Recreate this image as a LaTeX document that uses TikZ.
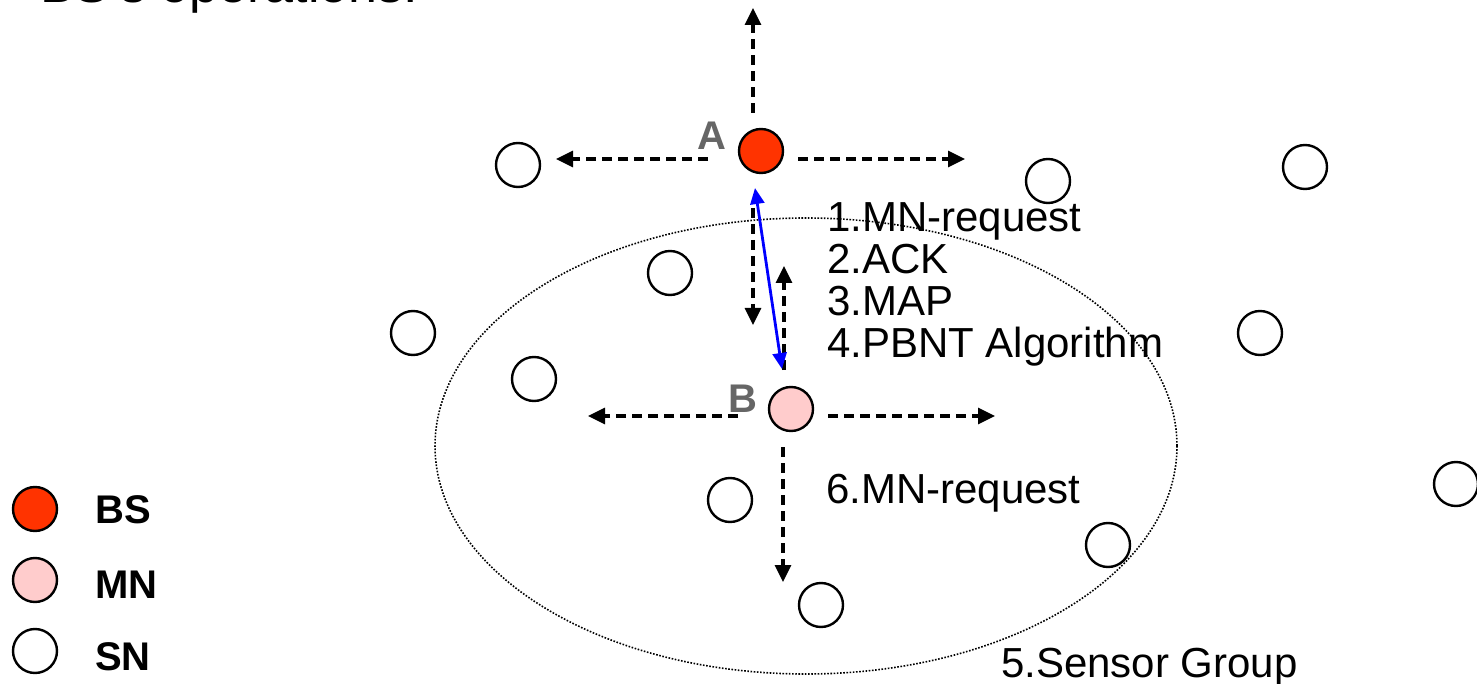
\documentclass[tikz,border=0pt]{standalone}
\usepackage{fontspec}
\setmainfont{Liberation Sans}
\usetikzlibrary{arrows.meta}
\definecolor{bsred}{RGB}{255,51,0}
\definecolor{mnpink}{RGB}{255,204,204}
\definecolor{labgray}{RGB}{102,102,102}
\definecolor{linkblue}{RGB}{0,0,255}

\begin{document}
\begin{tikzpicture}[x=1pt,y=-1pt,
  nodebase/.style={circle,draw=black,line width=2.4pt,minimum size=44pt,inner sep=0pt},
  bsnode/.style={nodebase,fill=bsred},
  mnnode/.style={nodebase,fill=mnpink},
  snnode/.style={nodebase,fill=white},
  msg/.style={draw=black,line width=3.2pt,dash pattern=on 10pt off 6pt,
    -{Triangle[length=17pt,width=16pt]}},
  link/.style={draw=linkblue,line width=2.8pt,
    {Triangle[length=16pt,width=14pt]}-{Triangle[length=16pt,width=14pt]}},
  txt/.style={anchor=base west,inner sep=0pt,font=\fontsize{42}{46}\selectfont},
  tag/.style={anchor=base,inner sep=0pt,text=labgray,font=\fontsize{40}{44}\selectfont\bfseries},
  legtxt/.style={anchor=base west,inner sep=0pt,font=\fontsize{40}{44}\selectfont\bfseries},
  group/.style={draw=black,line width=1.6pt,dash pattern=on 1.6pt off 1.6pt}
]
\useasboundingbox (0,0) rectangle (1477,684);
\clip (0,0) rectangle (1477,684);

% title (partly above the page)
\node[anchor=base west,inner sep=0pt,font=\fontsize{52}{56}\selectfont] (title) at (40,3) {BS's operations:};

% sensor group boundary
\draw[group] (806,446) ellipse [x radius=371, y radius=228];

% sensor nodes
\node[snnode] (s1) at (518,165) {};
\node[snnode] (s2) at (1048,181) {};
\node[snnode] (s3) at (1305,167) {};
\node[snnode] (s4) at (670,273) {};
\node[snnode] (s5) at (413,333) {};
\node[snnode] (s6) at (534,379) {};
\node[snnode] (s7) at (1260,333) {};
\node[snnode] (s8) at (730,500) {};
\node[snnode] (s9) at (821,605) {};
\node[snnode] (s10) at (1108,545) {};
\node[snnode] (s11) at (1456,484) {};

% base station and mobile node
\node[bsnode] (A) at (761,151) {};
\node[mnnode] (B) at (791,409) {};
\node[tag] (Alab) at (712,150) {A};
\node[tag] (Blab) at (743,412) {B};

% message arrow end points
\coordinate (aup0) at (753,113);   \coordinate (aup1) at (753,8);
\coordinate (art0) at (798,159);   \coordinate (art1) at (965,159);
\coordinate (alf0) at (708,159);   \coordinate (alf1) at (556,159);
\coordinate (adn0) at (753,208);   \coordinate (adn1) at (753,325);
\coordinate (bup0) at (784,370);   \coordinate (bup1) at (784,266);
\coordinate (blf0) at (738,416);   \coordinate (blf1) at (588,416);
\coordinate (brt0) at (828,416);   \coordinate (brt1) at (995,416);
\coordinate (bdn0) at (783,447);   \coordinate (bdn1) at (783,582);
\coordinate (lk0) at (755,188);    \coordinate (lk1) at (782,369);

\draw[msg] (aup0) -- (aup1);
\draw[msg] (art0) -- (art1);
\draw[msg] (alf0) -- (alf1);
\draw[msg] (adn0) -- (adn1);
\draw[msg] (bup0) -- (bup1);
\draw[msg] (blf0) -- (blf1);
\draw[msg] (brt0) -- (brt1);
\draw[msg] (bdn0) -- (bdn1);
\draw[link] (lk0) -- (lk1);

% step labels
\node[txt] (t1) at (827,232) {1.MN-request};
\node[txt] (t2) at (827,274) {2.ACK};
\node[txt] (t3) at (827,316) {3.MAP};
\node[txt] (t4) at (827,358) {4.PBNT Algorithm};
\node[txt] (t6) at (826,503) {6.MN-request};
\node[txt] (t5) at (1001,677) {5.Sensor Group};

% legend
\node[bsnode] (lbs) at (35,509) {};
\node[mnnode] (lmn) at (35,580) {};
\node[snnode] (lsn) at (35,651) {};
\node[legtxt] (lbst) at (95,523) {BS};
\node[legtxt] (lmnt) at (95,598) {MN};
\node[legtxt] (lsnt) at (95,670) {SN};
\end{tikzpicture}
\end{document}
